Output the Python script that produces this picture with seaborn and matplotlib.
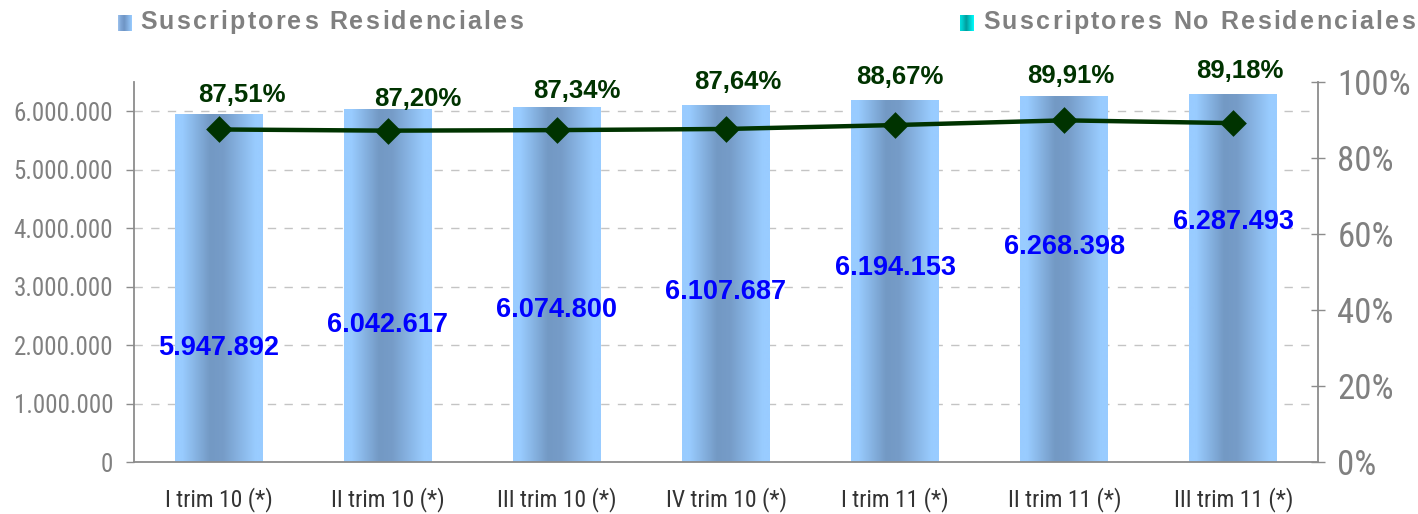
import matplotlib
matplotlib.use("Agg")
import matplotlib.pyplot as plt
from matplotlib import font_manager
import numpy as np
import pandas as pd
import seaborn as sns
from matplotlib.colors import to_rgb
from matplotlib.ticker import FuncFormatter

# data
quarters = ["I trim 10 (*)", "II trim 10 (*)", "III trim 10 (*)", "IV trim 10 (*)",
            "I trim 11 (*)", "II trim 11 (*)", "III trim 11 (*)"]
residential = [5947892, 6042617, 6074800, 6107687, 6194153, 6268398, 6287493]
pct_residential = [87.51, 87.20, 87.34, 87.64, 88.67, 89.91, 89.18]

# layout for the labels (left axis units for counts, right axis units for %)
count_label_y = [1950000, 2350000, 2600000, 2910000, 3320000, 3680000, 4110000]
pct_label_y = [96.6, 95.5, 97.6, 100.0, 101.2, 101.6, 102.9]
pct_label_dx = [0.14, 0.18, 0.12, 0.07, 0.03, 0.04, 0.04]

W, H = 1418, 514
GRAY = "#8C8C8C"
TICK_GRAY = "#808080"

sns.set_style("white")
plt.rcParams["font.family"] = ["Liberation Sans", "DejaVu Sans"]

# look for a narrow face for the axis numbers
names = {f.name for f in font_manager.fontManager.ttflist}
narrow = None
for cand in ["Liberation Sans Narrow", "Roboto Condensed", "Open Sans Condensed",
             "DejaVu Sans Condensed"]:
    if cand in names:
        narrow = dict(family=cand)
        break
if narrow is None:
    cond = [f for f in font_manager.fontManager.ttflist
            if f.name == "DejaVu Sans" and "ondensed" in f.fname and f.weight in (400, "normal")]
    if cond:
        narrow = dict(family="DejaVu Sans", stretch="condensed")
scale = 1.0
if narrow is None:
    narrow = dict(family="Liberation Sans")
    scale = 0.86

df = pd.DataFrame({"quarter": quarters, "residential": residential,
                   "pct": pct_residential})

fig = plt.figure(figsize=(W / 100, H / 100), dpi=100)
ax = fig.add_axes([134 / W, 1 - 462 / H, (1318 - 134) / W, (462 - 82) / H])

sns.barplot(data=df, x="quarter", y="residential", ax=ax, width=0.52,
            color="#99CCFF", saturation=1)


def gradient(stops, n=256):
    pos = [s[0] for s in stops]
    cols = np.array([to_rgb(s[1]) for s in stops])
    xs = np.linspace(0, 1, n)
    img = np.stack([np.interp(xs, pos, cols[:, k]) for k in range(3)], axis=-1)
    return img[np.newaxis, :, :]


bar_grad = gradient([(0, "#99CCFF"), (0.08, "#99CCFF"), (0.40, "#7399C4"),
                     (0.55, "#769CC8"), (0.92, "#99CCFF"), (1, "#99CCFF")])

for patch in ax.patches:
    x0, y0 = patch.get_x(), patch.get_y()
    w, h = patch.get_width(), patch.get_height()
    im = ax.imshow(bar_grad, extent=[x0, x0 + w, y0, y0 + h], aspect="auto",
                   zorder=1.5, interpolation="bilinear")
    im.set_clip_path(patch)
    patch.set_facecolor("none")
    patch.set_edgecolor("none")

ax.set_xlim(-0.5, 6.5)
ax.set_ylim(0, 6500000)
ax.set_xlabel("")
ax.set_ylabel("")
ax.set_yticks(range(0, 6000001, 1000000))
ax.yaxis.set_major_formatter(FuncFormatter(lambda v, p: f"{int(v):,}".replace(",", ".")))
ax.yaxis.grid(True, linestyle=(0, (6, 6)), color="#C4C4C4", linewidth=1)
ax.set_axisbelow(True)

for side in ["top", "right"]:
    ax.spines[side].set_visible(False)
for side in ["left", "bottom"]:
    ax.spines[side].set_color(GRAY)
    ax.spines[side].set_linewidth(1.3)

ax.tick_params(axis="y", which="major", direction="out", length=6, width=1,
               color=GRAY, labelcolor=TICK_GRAY, labelsize=18 * scale, pad=9)
ax.set_xticks(np.arange(-0.5, 7, 1), minor=True)
ax.tick_params(axis="x", which="minor", direction="out", length=7, width=1, color=GRAY)
ax.tick_params(axis="x", which="major", length=0, labelsize=17 * scale,
               labelcolor="#333333", pad=18)
for lbl in ax.get_yticklabels() + ax.get_xticklabels():
    lbl.set(**narrow)

for i, (v, yl) in enumerate(zip(residential, count_label_y)):
    ax.text(i, yl, f"{v:,}".replace(",", "."), ha="center", va="center",
            color="#0000FF", fontsize=19.5, fontweight="bold", zorder=5)

# percentage line on the right axis
ax2 = ax.twinx()
sns.pointplot(data=df, x="quarter", y="pct", ax=ax2, color="#003300",
              markers="D", markersize=11, linewidth=3.2, errorbar=None)
ax2.set_xlim(-0.5, 6.5)
ax2.set_ylim(0, 100)
ax2.set_xlabel("")
ax2.set_ylabel("")
ax2.set_yticks(range(0, 101, 20))
ax2.yaxis.set_major_formatter(FuncFormatter(lambda v, p: f"{v:.0f}%"))
ax2.tick_params(axis="y", direction="inout", length=10, width=1, color=GRAY,
                labelcolor=TICK_GRAY, labelsize=25 * scale, pad=9)
for lbl in ax2.get_yticklabels():
    lbl.set(**narrow)
for side in ["top", "left", "bottom"]:
    ax2.spines[side].set_visible(False)
ax2.spines["right"].set_color(GRAY)
ax2.spines["right"].set_linewidth(1.3)

for i, (p, yl, dx) in enumerate(zip(pct_residential, pct_label_y, pct_label_dx)):
    ax2.text(i + dx, yl, f"{p:.2f}".replace(".", ",") + "%", ha="center",
             va="center", color="#003300", fontsize=18.5, fontweight="bold",
             clip_on=False)


# legend at the top, drawn as spaced text with gradient squares
def spaced_text(x0, x1, yc, s, **kw):
    r = fig.canvas.get_renderer()
    widths = []
    for ch in s:
        if ch == " ":
            widths.append(None)
            continue
        t = fig.text(0, 0, ch, **kw)
        widths.append(t.get_window_extent(renderer=r).width)
        t.remove()
    fs = kw.get("fontsize", 12) * 100 / 72
    widths = [w if w is not None else 0.28 * fs for w in widths]
    gap = (x1 - x0 - sum(widths)) / (len(s) - 1)
    x = x0
    for ch, w in zip(s, widths):
        if ch != " ":
            fig.text(x / W, 1 - yc / H, ch, ha="left", va="center", **kw)
        x += w + gap


def legend_square(x0, x1, y0, y1, grad):
    sq = fig.add_axes([x0 / W, 1 - y1 / H, (x1 - x0) / W, (y1 - y0) / H])
    sq.imshow(grad, aspect="auto", interpolation="bilinear")
    sq.axis("off")


legend_square(118, 132, 15, 31, gradient([(0, "#9DC3EE"), (0.2, "#7FA6D6"),
                                          (0.45, "#6F95C4"), (1, "#99CCFF")]))
spaced_text(140, 523, 22, "Suscriptores Residenciales", fontsize=18,
            fontweight="bold", color="#808080")
legend_square(960, 974, 15, 31, gradient([(0, "#00E0E0"), (0.2, "#00C8C8"),
                                          (0.45, "#009C9C"), (1, "#00FFFF")]))
spaced_text(983, 1415, 22, "Suscriptores No Residenciales", fontsize=18,
            fontweight="bold", color="#808080")

fig.savefig("out.png", dpi=100)
